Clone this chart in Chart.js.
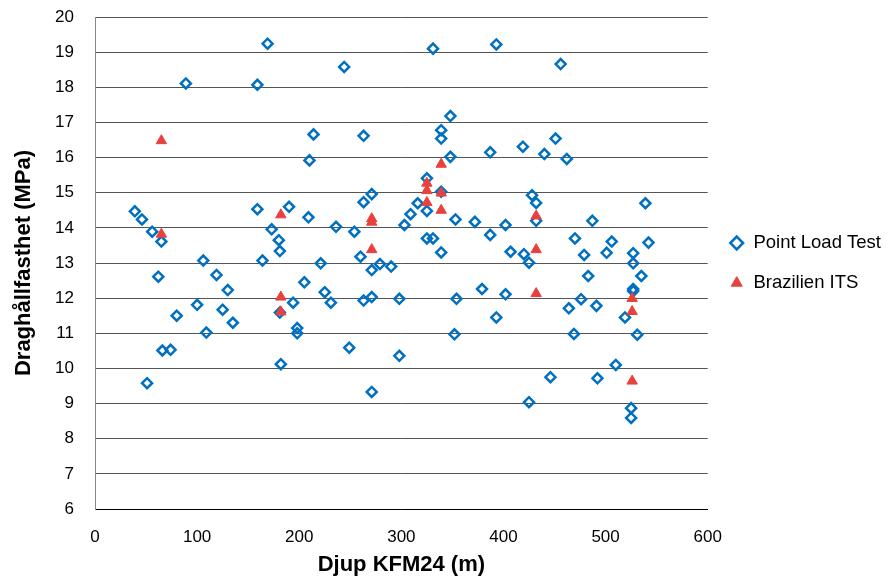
<!DOCTYPE html>
<html>
<head>
<meta charset="utf-8">
<script src="https://cdn.jsdelivr.net/npm/chart.js@4.4.1/dist/chart.umd.min.js"></script>
<style>
  html, body { margin: 0; padding: 0; background: #fff; }
  canvas { display: block; }
</style>
</head>
<body>
<canvas id="chart" width="889" height="582"></canvas>
<script>
// Point Load Test: depth (m) and tensile strength (MPa)
const pltDepth = [
  169, 89, 159, 214, 210, 39, 46, 56, 65, 106, 159, 190, 173, 180, 181, 164, 209,
  331, 393, 244, 263, 348, 339, 339, 348, 387, 419, 325, 339, 271, 263, 316, 309,
  303, 325, 353, 372, 402, 387, 325, 331, 339, 236, 254, 260, 221, 407, 279,
  62, 119, 130, 205, 194, 181, 100, 125, 80, 135, 109, 198, 198, 66, 74, 182, 51,
  271, 290, 225, 231, 263, 271, 298, 354, 379, 402, 393, 352, 249, 298, 271,
  456, 451, 440, 462, 428, 432, 432, 539, 487, 470, 506, 542, 420, 479, 501, 527,
  425, 527, 535, 483, 527, 527, 464, 476, 491, 519, 469, 531, 510, 446, 492, 425, 525, 525
];
const pltStrength = [
  19.24, 18.11, 18.07, 16.66, 15.92, 14.47, 14.24, 13.89, 13.61, 13.07, 14.53, 14.60, 13.96, 13.65, 13.34, 13.07, 14.30,
  19.10, 19.22, 18.58, 16.62, 17.18, 16.78, 16.54, 16.02, 16.15, 16.31, 15.41, 15.03, 14.96, 14.73, 14.70, 14.39,
  14.08, 14.48, 14.24, 14.17, 14.08, 13.80, 13.70, 13.70, 13.30, 14.03, 13.89, 13.18, 12.99, 13.32, 12.97,
  12.61, 12.66, 12.23, 12.45, 11.87, 11.59, 11.81, 11.67, 11.50, 11.30, 11.02, 11.15, 11.00, 10.51, 10.53, 10.12, 9.58,
  12.80, 12.90, 12.17, 11.87, 11.93, 12.03, 11.98, 11.98, 12.26, 12.11, 11.45, 10.97, 10.59, 10.36, 9.33,
  18.66, 16.54, 16.10, 15.96, 14.93, 14.71, 14.20, 14.70, 14.20, 13.70, 13.61, 13.58, 13.25, 13.23, 13.29, 13.28,
  13.01, 12.99, 12.63, 12.63, 12.26, 12.20, 11.71, 11.97, 11.78, 11.45, 10.98, 10.96, 10.10, 9.75, 9.72, 9.04, 8.87, 8.59
];

// Brazilian indirect tensile strength tests
const itsDepth = [65, 65, 182, 182, 182, 271, 271, 271, 325, 325, 325, 339, 339, 339, 432, 432, 432, 526, 526, 526];
const itsStrength = [16.48, 13.82, 14.37, 12.03, 11.61, 14.26, 14.16, 13.38, 15.27, 15.06, 14.72, 15.81, 14.99, 14.50, 14.34, 13.38, 12.13, 11.99, 11.62, 9.64];

const seriesNames = ['Point Load Test', 'Brazilien ITS'];
const xTitle = 'Djup KFM24 (m)';
const yTitle = 'Draghållfasthet (MPa)';

const toPoints = (xs, ys) => xs.map((x, i) => ({ x: x, y: ys[i] }));

const FONT = "'Liberation Sans', Arial, Helvetica, sans-serif";
const HIDDEN = 'rgba(0,0,0,0)';

new Chart(document.getElementById('chart'), {
  type: 'scatter',
  data: {
    datasets: [
      {
        label: seriesNames[0],
        data: toPoints(pltDepth, pltStrength),
        pointStyle: 'rectRot',
        pointRadius: 5,
        pointBorderWidth: 2.5,
        borderColor: '#0070C0',
        backgroundColor: 'rgba(255,255,255,0)',
        order: 1
      },
      {
        label: seriesNames[1],
        data: toPoints(itsDepth, itsStrength),
        pointStyle: 'triangle',
        pointRadius: 6,
        pointBorderWidth: 1,
        borderColor: '#E8413D',
        backgroundColor: '#E8413D',
        order: 0
      }
    ]
  },
  options: {
    responsive: false,
    animation: false,
    events: [],
    layout: { padding: { left: 11, top: 17, right: -2, bottom: 0 } },
    plugins: {
      tooltip: { enabled: false },
      legend: {
        position: 'right',
        align: 'center',
        fullSize: false,
        labels: {
          usePointStyle: true,
          boxWidth: 15,
          boxHeight: 9,
          padding: 21.5,
          color: '#000',
          font: { family: FONT, size: 18.5 },
          sort: (a, b) => a.datasetIndex - b.datasetIndex
        }
      }
    },
    scales: {
      x: {
        type: 'linear',
        position: 'bottom',
        min: 0,
        max: 600,
        afterFit: (scale) => { scale.height = 73; },
        ticks: {
          stepSize: 100,
          padding: 3,
          color: '#000',
          font: { family: FONT, size: 17 }
        },
        grid: { display: false, drawTicks: true, tickLength: 15, tickColor: HIDDEN },
        border: { display: true, color: '#000', width: 1 },
        title: {
          display: true,
          text: xTitle,
          color: '#000',
          padding: { top: 0, bottom: 4 },
          font: { family: FONT, size: 22, weight: 'bold' }
        }
      },
      y: {
        type: 'linear',
        min: 6,
        max: 20,
        afterFit: (scale) => { scale.width = 84; },
        ticks: {
          stepSize: 1,
          padding: 3,
          color: '#000',
          font: { family: FONT, size: 17 }
        },
        grid: { color: '#555', lineWidth: 1, drawTicks: true, tickLength: 18, tickColor: HIDDEN },
        border: { display: true, color: '#888', width: 1 },
        title: {
          display: true,
          text: yTitle,
          color: '#000',
          padding: { top: 0, bottom: 0 },
          font: { family: FONT, size: 22, weight: 'bold' }
        }
      }
    }
  }
});
</script>
</body>
</html>
